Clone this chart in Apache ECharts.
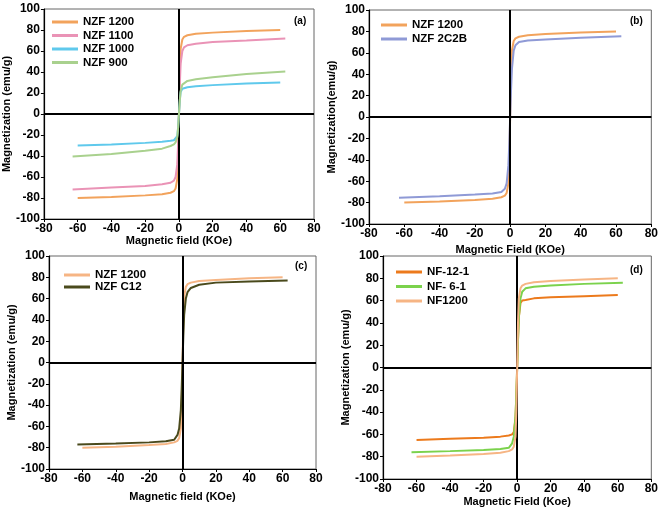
<!DOCTYPE html>
<html><head><meta charset="utf-8">
<script src="https://cdn.jsdelivr.net/npm/echarts@6/dist/echarts.min.js"></script>
<style>html,body{margin:0;padding:0;background:#fff}#c{width:661px;height:510px}</style>
</head><body><div id="c"></div>
<script>
// Magnetic field values (KOe)
const FIELD60 = [-60,-40,-20,-10,-5,-3,-2,-1,-0.5,0,0.5,1,2,3,5,10,20,40,60];
const FIELD63 = [-63,-40,-20,-10,-5,-3,-2,-1,-0.5,0,0.5,1,2,3,5,10,20,40,63];
// Magnetization (emu/g)
const NZF1200 = [-80,-79,-77.5,-76.5,-75,-73.5,-71,-62,-40,0,40,62,71,73.5,75,76.5,77.5,79,80];
const NZF1100 = [-72,-70,-68.5,-67,-65.5,-63.5,-60,-48,-28,0,28,48,60,63.5,65.5,67,68.5,70,72];
const NZF1000 = [-30,-29,-27.5,-26.5,-25.5,-25,-24,-21,-13,0,13,21,24,25,25.5,26.5,27.5,29,30];
const NZF900  = [-40.5,-38,-35,-33,-30.5,-29,-27,-22,-13,0,13,22,28,29.5,31.5,33,35,38,40.5];
const NZF2C2B = [-75.5,-74,-72.5,-71.5,-70,-67,-62,-45,-25,0,25,45,62,67,70,71.5,72.5,74,75.5];
const NZFC12  = [-77,-76,-75,-74,-72.5,-68,-62,-45,-25,0,25,45,60,66,70,73,75,76,77];
const NF121   = [-65,-64,-63,-62,-61,-60,-58,-45,-25,0,25,45,58,60,60.5,62,63,64,65];
const NF61    = [-76,-75,-74,-73,-72,-68,-62,-45,-25,0,25,45,62,68,71,72.5,73.5,75,76];
// Axis ticks
const X_MIN = -80, X_MAX = 80, X_STEP = 20;
const Y_MIN = -100, Y_MAX = 100, Y_STEP = 20;

const pairs = (xs, ys) => xs.map((x, i) => [x, ys[i]]);
const FONT = 'Liberation Sans, Arial, sans-serif';

const panels = [
  {grid:{left:42,top:9,width:272,height:210}, xName:'Magnetic field (KOe)', xGap:14, yName:'Magnetization (emu/g)', yGap:26,
   tag:'(a)', tagPos:[302,22], legendPos:{left:47,top:10}, legendGap:-0.5,
   series:[['NZF 1200',FIELD60,NZF1200,'#f2a35c'],['NZF 1100',FIELD63,NZF1100,'#ea93b6'],['NZF 1000',FIELD60,NZF1000,'#5fc9ec'],['NZF 900',FIELD63,NZF900,'#a9d18e']]},
  {grid:{left:369,top:10,width:283,height:214}, xName:'Magnetic Field (KOe)', xGap:20, yName:'Magnetization(emu/g)', yGap:28,
   tag:'(b)', tagPos:[638,22], legendPos:{left:376,top:13}, legendGap:0,
   series:[['NZF 1200',FIELD60,NZF1200,'#f2a35c'],['NZF 2C2B',FIELD63,NZF2C2B,'#8f9ad6']]},
  {grid:{left:49,top:256,width:267,height:213}, xName:'Magnetic field (KOe)', xGap:22, yName:'Magnetization (emu/g)', yGap:26,
   tag:'(c)', tagPos:[303,267], legendPos:{left:59,top:263}, legendGap:-2,
   series:[['NZF 1200',FIELD60,NZF1200,'#f6b584'],['NZF C12',FIELD63,NZFC12,'#4a4a1c']]},
  {grid:{left:383,top:256,width:270,height:223}, xName:'Magnetic Field (Koe)', xGap:17, yName:'Magnetization (emu/g)', yGap:24,
   tag:'(d)', tagPos:[638,271], legendPos:{left:391,top:260}, legendGap:0.5,
   series:[['NF-12-1',FIELD60,NF121,'#ec7a1c'],['NF- 6-1',FIELD63,NF61,'#7bd24c'],['NF1200',FIELD60,NZF1200,'#f6b584']]}
];

const option = {animation:false, backgroundColor:'#fff', grid:[], xAxis:[], yAxis:[], series:[], legend:[], graphic:[]};
const axisText = {color:'#000', fontWeight:'bold', fontSize:12, fontFamily:FONT};
const nameText = {color:'#000', fontWeight:'bold', fontSize:11, fontFamily:FONT};
panels.forEach((p, gi) => {
  option.grid.push(Object.assign({show:true, borderColor:'#666', borderWidth:1, backgroundColor:'transparent'}, p.grid));
  option.xAxis.push({type:'value', gridIndex:gi, min:X_MIN, max:X_MAX, interval:X_STEP,
    name:p.xName, nameLocation:'middle', nameGap:p.xGap, nameTextStyle:nameText,
    axisLine:{onZero:false, lineStyle:{color:'#000', width:1.2}}, axisTick:{length:3, lineStyle:{color:'#000'}},
    axisLabel:Object.assign({margin:4}, axisText), splitLine:{show:false}});
  option.yAxis.push({type:'value', gridIndex:gi, min:Y_MIN, max:Y_MAX, interval:Y_STEP,
    name:p.yName, nameLocation:'middle', nameGap:p.yGap, nameTextStyle:nameText,
    axisLine:{onZero:false, lineStyle:{color:'#000', width:1.2}}, axisTick:{show:true, length:3, lineStyle:{color:'#000'}},
    axisLabel:Object.assign({margin:4}, axisText), splitLine:{show:false}});
  p.series.forEach((s, si) => {
    const ser = {type:'line', name:s[0], xAxisIndex:gi, yAxisIndex:gi, data:pairs(s[1], s[2]),
      showSymbol:false, symbol:'none', lineStyle:{color:s[3], width:2}, itemStyle:{color:s[3]}, z:3 + si};
    if (si === 0) {
      ser.markLine = {silent:true, symbol:'none', label:{show:false}, animation:false,
        lineStyle:{color:'#000', width:2, type:'solid'}, data:[{xAxis:0},{yAxis:0}]};
    }
    option.series.push(ser);
  });
  option.legend.push(Object.assign({orient:'vertical', icon:'rect', itemWidth:26, itemHeight:3, itemGap:p.legendGap,
    textStyle:{color:'#000', fontWeight:'bold', fontSize:11.5, fontFamily:FONT, lineHeight:14},
    selectedMode:false,
    data:p.series.map(s => ({name:s[0], itemStyle:{color:s[3]}}))}, p.legendPos));
  option.graphic.push({type:'text', left:p.tagPos[0]-8, top:p.tagPos[1]-6,
    style:{text:p.tag, fill:'#000', font:'bold 10px ' + FONT}});
});
const chart = echarts.init(document.getElementById('c'));
chart.setOption(option);
</script></body></html>
